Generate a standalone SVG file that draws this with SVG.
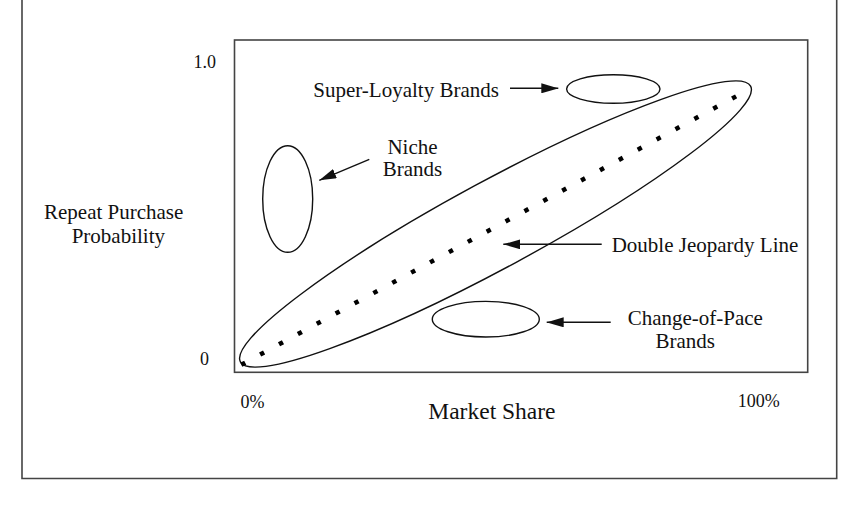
<svg xmlns="http://www.w3.org/2000/svg" width="850" height="514" viewBox="0 0 850 514">
<style>
text{font-family:"Liberation Serif","Times New Roman",serif;fill:#111}
.lbl{font-size:21px}
.tick{font-size:18px}
.axis{font-size:23.5px}
.shape{fill:none;stroke:#111;stroke-width:1.4}
.frame{fill:none;stroke:#444;stroke-width:1.6}
.conn{fill:none;stroke:#111;stroke-width:1.4}
</style>
<defs>
<marker id="ah" viewBox="0 0 17 10" refX="17" refY="5" markerWidth="17" markerHeight="10" markerUnits="userSpaceOnUse" orient="auto">
<path d="M0,0 L17,5 L0,10 z" fill="#111"/>
</marker>
</defs>
<rect width="850" height="514" fill="#fff"/>
<g id="frame">
<path class="frame" d="M22,-5 V478.5 H836.7 V-5"/>
<rect class="frame" x="234.5" y="40" width="573.2" height="332.3"/>
</g>
<g id="axes">
<text class="tick" x="193.5" y="68">1.0</text>
<text class="tick" x="200" y="365">0</text>
<text class="tick" x="240.5" y="407.5">0%</text>
<text class="tick" x="737.7" y="406.5">100%</text>
<text class="axis" x="428.3" y="418.7">Market Share</text>
<text class="lbl" x="44" y="219">Repeat Purchase</text>
<text class="lbl" x="71.7" y="243.3">Probability</text>
</g>
<g id="double-jeopardy">
<ellipse class="shape" cx="495.5" cy="224" rx="290" ry="43.5" transform="rotate(-28.4 495.5 224)"/>
<line x1="241.25" y1="364.8" x2="736.3" y2="96.25" stroke="#000" stroke-width="4.5" stroke-dasharray="4.5 16.98"/>
<text class="lbl" x="611.7" y="251.7">Double Jeopardy Line</text>
</g>
<g id="super-loyalty">
<ellipse class="shape" cx="613.3" cy="89" rx="46.7" ry="14.3"/>
<text class="lbl" x="313.3" y="96.7">Super-Loyalty Brands</text>
</g>
<g id="niche">
<ellipse class="shape" cx="287.7" cy="199" rx="25" ry="53.3"/>
<text class="lbl" text-anchor="middle" x="412.5" y="153.6">Niche</text>
<text class="lbl" text-anchor="middle" x="412.5" y="176.2">Brands</text>
</g>
<g id="change-of-pace">
<ellipse class="shape" cx="485.8" cy="319.2" rx="53.5" ry="17.8"/>
<text class="lbl" text-anchor="middle" x="695.3" y="325.3">Change-of-Pace</text>
<text class="lbl" text-anchor="middle" x="685.3" y="347.7">Brands</text>
</g>
<g id="connectors">
<line class="conn" x1="510" y1="88.3" x2="558.3" y2="88.3" marker-end="url(#ah)"/>
<line class="conn" x1="369.3" y1="159.3" x2="319.3" y2="180.3" marker-end="url(#ah)"/>
<line class="conn" x1="601.7" y1="244.3" x2="503.3" y2="244.3" marker-end="url(#ah)"/>
<line class="conn" x1="610.7" y1="322.3" x2="546.7" y2="322.3" marker-end="url(#ah)"/>
</g>
</svg>
